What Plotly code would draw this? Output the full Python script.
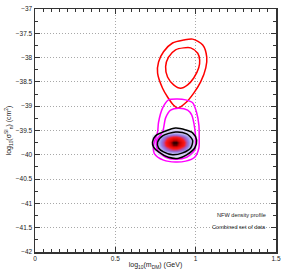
import plotly.graph_objects as go

# Contour lines (log10 m_DM [GeV], log10 sigma [cm^2])
red_outer_x = [0.856, 0.925, 0.981, 1.044, 1.069, 1.063, 1.031, 0.988, 0.938, 0.888, 0.863, 0.825, 0.794, 0.763, 0.769, 0.800]
red_outer_y = [-37.70, -37.64, -37.62, -37.74, -37.99, -38.21, -38.50, -38.73, -38.93, -39.04, -38.98, -38.81, -38.63, -38.32, -38.09, -37.88]

red_inner_x = [0.875, 0.925, 0.969, 1.013, 1.025, 1.019, 0.988, 0.950, 0.906, 0.863, 0.825, 0.813, 0.831]
red_inner_y = [-37.84, -37.80, -37.80, -37.91, -38.05, -38.21, -38.42, -38.56, -38.63, -38.56, -38.40, -38.19, -37.99]

mag_outer_x = [0.831, 0.888, 0.938, 0.981, 1.005, 1.020, 1.022, 1.020, 0.994, 0.938, 0.875, 0.800, 0.744, 0.738, 0.763, 0.769, 0.794]
mag_outer_y = [-38.87, -38.85, -38.87, -38.93, -39.12, -39.39, -39.65, -39.86, -40.05, -40.13, -40.15, -40.11, -39.98, -39.80, -39.53, -39.33, -39.04]

mag_inner_x = [0.844, 0.894, 0.950, 0.975, 0.994, 1.000, 0.994, 0.944, 0.875, 0.813, 0.763, 0.757, 0.794, 0.813]
mag_inner_y = [-39.08, -39.04, -39.08, -39.18, -39.45, -39.70, -39.90, -40.05, -40.09, -40.05, -39.90, -39.70, -39.53, -39.24]

blk_outer_x = [0.731, 0.750, 0.813, 0.875, 0.938, 0.981, 1.006, 0.994, 0.944, 0.894, 0.831, 0.769, 0.738]
blk_outer_y = [-39.74, -39.61, -39.51, -39.45, -39.49, -39.55, -39.70, -39.86, -40.00, -40.07, -40.05, -39.94, -39.84]

blk_inner_x = [0.763, 0.794, 0.875, 0.944, 0.981, 0.969, 0.919, 0.856, 0.800, 0.769]
blk_inner_y = [-39.74, -39.61, -39.53, -39.57, -39.70, -39.86, -39.96, -40.00, -39.94, -39.86]

# Posterior density (relative), read by eye
dens_x = [0.74, 0.76, 0.78, 0.80, 0.82, 0.84, 0.86, 0.88, 0.90, 0.92, 0.94, 0.96, 0.98, 1.00]
dens_y = [-39.50, -39.55, -39.60, -39.65, -39.70, -39.75, -39.80, -39.85, -39.90, -39.95, -40.00, -40.05]
dens_z = [
    [0.00, 0.00, 0.00, 0.02, 0.04, 0.05, 0.06, 0.06, 0.05, 0.04, 0.02, 0.00, 0.00, 0.00],
    [0.00, 0.02, 0.04, 0.06, 0.09, 0.13, 0.15, 0.15, 0.13, 0.09, 0.06, 0.04, 0.02, 0.00],
    [0.02, 0.05, 0.09, 0.15, 0.22, 0.30, 0.34, 0.34, 0.30, 0.22, 0.15, 0.08, 0.04, 0.00],
    [0.04, 0.08, 0.14, 0.24, 0.37, 0.50, 0.58, 0.58, 0.50, 0.37, 0.24, 0.13, 0.06, 0.02],
    [0.05, 0.10, 0.19, 0.32, 0.50, 0.70, 0.84, 0.84, 0.70, 0.50, 0.32, 0.17, 0.08, 0.03],
    [0.05, 0.11, 0.21, 0.36, 0.57, 0.82, 1.00, 1.00, 0.82, 0.57, 0.36, 0.19, 0.09, 0.03],
    [0.05, 0.10, 0.19, 0.33, 0.52, 0.74, 0.90, 0.90, 0.74, 0.52, 0.33, 0.17, 0.08, 0.03],
    [0.04, 0.08, 0.15, 0.25, 0.39, 0.53, 0.62, 0.62, 0.53, 0.39, 0.25, 0.13, 0.06, 0.02],
    [0.02, 0.05, 0.09, 0.16, 0.24, 0.32, 0.36, 0.36, 0.32, 0.24, 0.16, 0.08, 0.04, 0.00],
    [0.00, 0.02, 0.05, 0.08, 0.11, 0.15, 0.17, 0.17, 0.15, 0.11, 0.08, 0.04, 0.02, 0.00],
    [0.00, 0.00, 0.02, 0.03, 0.05, 0.06, 0.07, 0.07, 0.06, 0.05, 0.03, 0.02, 0.00, 0.00],
    [0.00, 0.00, 0.00, 0.00, 0.00, 0.00, 0.00, 0.00, 0.00, 0.00, 0.00, 0.00, 0.00, 0.00],
]

x_tickvals = [0, 0.5, 1, 1.5]
x_ticktext = ["0", "0.5", "1", "1.5"]
y_tickvals = [-42, -41.5, -41, -40.5, -40, -39.5, -39, -38.5, -38, -37.5, -37]
y_ticktext = ["\u221242", "\u221241.5", "\u221241", "\u221240.5", "\u221240", "\u221239.5", "\u221239",
              "\u221238.5", "\u221238", "\u221237.5", "\u221237"]

FONT = "Liberation Sans, Arial, sans-serif"


def closed(a):
    return list(a) + [a[0]]


fig = go.Figure()

fig.add_trace(go.Heatmap(x=dens_x, y=dens_y, z=dens_z, zsmooth="best", showscale=False,
                         zmin=0, zmax=1,
                         colorscale=[[0, "rgba(235,232,250,0)"], [0.02, "#e6e2f9"], [0.1, "#c9c1f2"],
                                     [0.24, "#8f80e8"], [0.38, "#b84aa0"], [0.5, "#ff1a1a"],
                                     [0.8, "#d00000"], [1, "#200000"]],
                         hoverinfo="skip"))

for xs, ys, col in [
    (red_outer_x, red_outer_y, "#ff0000"),
    (red_inner_x, red_inner_y, "#ff0000"),
    (mag_outer_x, mag_outer_y, "#ff00ff"),
    (mag_inner_x, mag_inner_y, "#ff00ff"),
    (blk_outer_x, blk_outer_y, "#000000"),
    (blk_inner_x, blk_inner_y, "#000000"),
]:
    fig.add_trace(go.Scatter(x=closed(xs), y=closed(ys), mode="lines",
                             line=dict(color=col, width=1.5, shape="spline", smoothing=0.8),
                             hoverinfo="skip"))

axis_common = dict(
    showline=True, linecolor="#333333", linewidth=1.5, mirror="allticks",
    ticks="inside", ticklen=5, tickcolor="#333333", tickwidth=1,
    showgrid=True, gridcolor="#a8a8a8", griddash="1px,2px", gridwidth=1,
    zeroline=False, automargin=False,
    tickfont=dict(family=FONT, size=6.5, color="#222222"),
)

fig.update_xaxes(range=[0, 1.5], tickvals=x_tickvals, ticktext=x_ticktext,
                 minor=dict(dtick=0.05, ticks="inside", ticklen=3, tickcolor="#333333", showgrid=False),
                 title=dict(text="log<sub>10</sub>(m<sub>DM</sub>) (GeV)", standoff=1,
                            font=dict(family=FONT, size=7, color="#222222")),
                 **axis_common)
fig.update_yaxes(range=[-42, -37], tickvals=y_tickvals, ticktext=y_ticktext,
                 minor=dict(dtick=0.25, ticks="inside", ticklen=3, tickcolor="#333333", showgrid=False),
                 title=dict(text="log<sub>10</sub>(σ<sup>SI</sup><sub>n</sub>) (cm<sup>2</sup>)", standoff=3,
                            font=dict(family=FONT, size=7, color="#222222")),
                 **axis_common)

fig.add_annotation(x=1.45, y=-41.23, xref="x", yref="y", text="NFW density profile", showarrow=False,
                   xanchor="right", yanchor="middle",
                   font=dict(family=FONT, size=5.6, color="#222222"))
fig.add_annotation(x=1.45, y=-41.48, xref="x", yref="y", text="Combined set of data", showarrow=False,
                   xanchor="right", yanchor="middle",
                   font=dict(family=FONT, size=5.6, color="#222222"))

fig.update_layout(width=299, height=270, margin=dict(l=35, r=23, t=9, b=18),
                  plot_bgcolor="white", paper_bgcolor="white", showlegend=False,
                  hovermode=False)

fig.write_html("out.html", config={"displayModeBar": False, "staticPlot": True},
               post_script="document.body.style.margin='0';")
